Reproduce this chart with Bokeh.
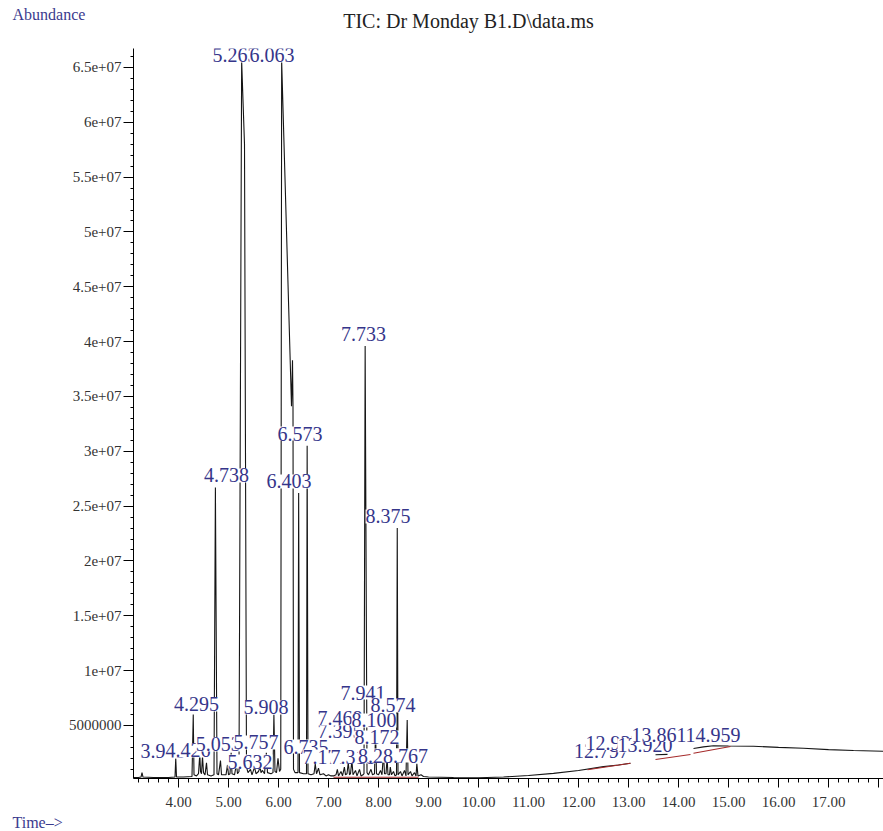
import math
from bokeh.plotting import figure
from bokeh.models import (ColumnDataSource, LabelSet, Label, Range1d, FixedTicker,
                          CustomJSTickFormatter)
from bokeh.core.properties import value
from bokeh.embed import file_html
from bokeh.resources import INLINE

NaN = float("nan")

# ---------------- data ----------------
trace_time = [
    3.10, 3.20, 3.25, 3.27, 3.29, 3.50, 3.80, 3.93, 3.945, 3.96,
    4.10, 4.27, 4.295, 4.31, 4.36, 4.40, 4.426, 4.44, 4.46, 4.48, 4.50, 4.53, 4.56, 4.58, 4.65,
    4.71, 4.738, 4.77,
    4.80, 4.84, 4.86, 4.95, 4.98, 5.00, 5.03, 5.053, 5.07, 5.12, 5.16, 5.18,
    5.21, 5.263, 5.32, 5.36,
    5.39, 5.44, 5.47, 5.52, 5.55, 5.60, 5.632, 5.65, 5.68, 5.72, 5.757, 5.78, 5.85, 5.89, 5.908, 5.93,
    5.96, 5.99, 6.02,
    6.045, 6.063, 6.26, 6.28, 6.29, 6.30,
    6.33, 6.39, 6.403, 6.42, 6.50, 6.56, 6.573, 6.59, 6.65, 6.71, 6.735, 6.76, 6.80, 6.83, 6.90,
    6.95, 7.00, 7.05, 7.10, 7.15, 7.177, 7.20, 7.25, 7.28, 7.318, 7.34, 7.37, 7.395, 7.42, 7.44,
    7.468, 7.49, 7.54, 7.57, 7.62, 7.65, 7.69,
    7.71, 7.733, 7.77,
    7.80, 7.85, 7.88, 7.92, 7.941, 7.96, 8.00, 8.04, 8.07, 8.100, 8.12, 8.15, 8.172, 8.19, 8.22,
    8.236, 8.26, 8.30, 8.33, 8.36, 8.375, 8.39, 8.44, 8.47, 8.52, 8.55, 8.574, 8.59, 8.64, 8.67,
    8.72, 8.75, 8.767, 8.79, 8.85, 8.90, 9.00,
    9.50, 10.00, 10.50, 11.00, 11.50, 12.00, 12.50, 12.80, 13.04, NaN,
    13.54, 13.78, NaN,
    14.30, 14.50, 14.70, 15.00, 15.50, 16.00, 16.50, 17.00, 17.50, 18.10,
]
trace_abund = [
    2.5e5, 2.5e5, 3e5, 7e5, 3e5, 2.5e5, 2.5e5, 3e5, 2.0e6, 3e5,
    3e5, 3.5e5, 6.0e6, 5e5, 4e5, 6e5, 2.4e6, 8e5, 6e5, 2.2e6, 7e5, 5e5, 1.6e6, 5e5, 4e5,
    5e5, 2.67e7, 6e5,
    5e5, 1.8e6, 5e5, 5e5, 1.4e6, 5e5, 6e5, 2.5e6, 6e5, 5e5, 1.5e6, 6e5,
    8e5, 6.56e7, 5.8e7, 1.2e6,
    7e5, 1.0e6, 5e5, 1.2e6, 6e5, 8e5, 1.2e6, 7e5, 9e5, 6e5, 2.5e6, 7e5, 6e5, 7e5, 6.0e6, 8e5,
    7e5, 2.0e6, 8e5,
    1.0e6, 6.56e7, 3.41e7, 3.83e7, 3.4e7, 1.0e6,
    7e5, 7e5, 2.62e7, 7e5, 6e5, 6e5, 3.05e7, 6e5, 5e5, 6e5, 1.5e6, 6e5, 1.1e6, 5e5, 6e5,
    4e5, 5e5, 4e5, 4e5, 5e5, 1.0e6, 4e5, 8e5, 4e5, 1.2e6, 5e5, 6e5, 1.6e6, 5e5, 6e5,
    1.8e6, 5e5, 9e5, 4e5, 1.0e6, 4e5, 5e5,
    6e5, 3.96e7, 7e5,
    5e5, 1.0e6, 5e5, 6e5, 4.5e6, 6e5, 5e5, 9e5, 5e5, 2.5e6, 6e5, 6e5, 2.0e6, 5e5, 5e5,
    1.2e6, 5e5, 8e5, 4e5, 5e5, 2.3e7, 5e5, 8e5, 4e5, 9e5, 4e5, 5.5e6, 5e5, 8e5, 4e5,
    7e5, 4e5, 1.5e6, 4e5, 5e5, 3.5e5, 3e5,
    2.6e5, 2.3e5, 3.0e5, 4.4e5, 6.3e5, 9.0e5, 1.25e6, 1.4e6, 1.56e6, NaN,
    2.33e6, 2.36e6, NaN,
    2.9e6, 3.05e6, 3.15e6, 3.13e6, 3.1e6, 3.0e6, 2.92e6, 2.8e6, 2.72e6, 2.65e6,
]

peak_rt = [3.945, 4.295, 4.426, 4.738, 5.053, 5.263, 5.632, 5.757, 5.908, 6.063, 6.403, 6.573,
           6.735, 7.177, 7.318, 7.395, 7.468, 7.733, 7.941, 8.100, 8.172, 8.236, 8.375, 8.574,
           8.767, 12.797, 12.937, 13.920, 13.861, 14.959]
peak_height = [2.0e6, 6.0e6, 2.4e6, 2.67e7, 2.5e6, 6.56e7, 1.2e6, 2.5e6, 6.0e6, 6.56e7, 2.62e7,
               3.05e7, 1.5e6, 1.0e6, 1.2e6, 1.6e6, 1.8e6, 3.96e7, 4.5e6, 2.5e6, 2.0e6, 1.2e6,
               2.3e7, 5.5e6, 1.5e6, 1.35e6, 1.5e6, 2.3e6, 2.3e6, 3.1e6]
peak_text = ["3.945", "4.295", "4.426", "4.738", "5.053", "5.263", "5.632", "5.757", "5.908",
             "6.063", "6.403", "6.573", "6.735", "7.177", "7.318", "7.395", "7.468", "7.733",
             "7.941", "8.100", "8.172", "8.236", "8.375", "8.574", "8.767", "12.797", "12.937",
             "13.920", "13.861", "14.959"]

baseline_time = [[7.10, 8.80], [12.18, 13.04], [13.54, 14.24], [14.30, 15.04]]
baseline_abund = [[2.8e5, 2.8e5], [0.96e6, 1.56e6], [1.9e6, 2.35e6], [2.47e6, 3.08e6]]

x_major = [4, 5, 6, 7, 8, 9, 10, 11, 12, 13, 14, 15, 16, 17, 18]
y_major = [5e6, 1e7, 1.5e7, 2e7, 2.5e7, 3e7, 3.5e7, 4e7, 4.5e7, 5e7, 5.5e7, 6e7, 6.5e7]

title_text = "TIC: Dr Monday B1.D\\data.ms"
y_title = "Abundance"
x_title = "Time\u2013>"

# ---------------- layout / style ----------------
W, H = 883, 831
LEFT, TOP, BOTTOM = 133, 48, 53
X0, X1 = 3.1, 18.1
Y0, Y1 = 1.64e5, 6.6727e7
PXX = (W - LEFT) / (X1 - X0)          # px per minute
PXY = (H - TOP - BOTTOM) / (Y1 - Y0)  # px per abundance unit

# label placement offsets in pixels (dx right, dy up) relative to each apex
label_dx = [-12.8, 3.2, -11.8, 11.1, -13.0, -6.6, -10.0, -10.3, -7.9, -9.6, -9.6, -7.1,
            -9.2, -12.3, 8.6, -8.2, -11.9, -1.6, -12.5, -9.5, -10.1, -9.8, -9.2, -14.2,
            -11.3, -16.8, -12.3, -29.5, -12.5, -13.4]
label_dy = [6.9, 10.0, 3.5, 12.0, 8.4, 5.4, 5.6, 10.4, 7.0, 5.4, 11.5, 12.3,
            17.3, 12.8, 10.6, 31.3, 42.1, 12.5, 38.4, 32.4, 20.9, 11.6, 11.6, 14.5,
            8.3, 14.5, 20.8, 9.6, 20.1, 11.3]

SERIF = "Liberation Serif"
NAVY = "#35358a"

p = figure(width=W, height=H, output_backend="svg", toolbar_location=None,
           x_range=Range1d(X0, X1), y_range=Range1d(Y0, Y1),
           min_border_left=LEFT, min_border_right=0, min_border_top=TOP,
           min_border_bottom=BOTTOM, title=None)
p.outline_line_color = None
p.xgrid.visible = False
p.ygrid.visible = False
p.background_fill_color = "white"
p.border_fill_color = "white"

# trace
p.line(x=trace_time, y=trace_abund, line_color="#151515", line_width=1.1)
# integration baselines
p.multi_line(xs=baseline_time, ys=baseline_abund, line_color="#a52a2a", line_width=1.1)

# peak labels
lab_x = [t + dx / PXX for t, dx in zip(peak_rt, label_dx)]
lab_y = [h + dy / PXY for h, dy in zip(peak_height, label_dy)]
src = ColumnDataSource(dict(x=lab_x, y=lab_y, text=peak_text))
labels = LabelSet(x="x", y="y", text="text", source=src, text_align="center",
                  text_baseline="middle", text_font=value(SERIF), text_font_size="20px",
                  text_color=NAVY, background_fill_color="white")
p.add_layout(labels)

# axes
xa = p.xaxis[0]
xa.ticker = FixedTicker(ticks=x_major, minor_ticks=[round(3.2 + 0.2 * i, 2) for i in range(75)])
xa.formatter = CustomJSTickFormatter(code="return tick >= 18 ? '' : tick.toFixed(2);")
ya = p.yaxis[0]
ya.ticker = FixedTicker(ticks=y_major, minor_ticks=[1e6 * i for i in range(1, 67)])
ya.formatter = CustomJSTickFormatter(code="""
if (tick < 1e7) return tick.toFixed(0);
return tick.toExponential().replace(/e\\+(\\d)$/, 'e+0$1');
""")
for ax in (xa, ya):
    ax.axis_line_color = "black"
    ax.axis_line_width = 1
    ax.major_tick_line_color = "black"
    ax.minor_tick_line_color = "black"
    ax.major_tick_in = 0
    ax.minor_tick_in = 0
    ax.major_label_text_font = SERIF
    ax.major_label_text_font_size = "15px"
    ax.major_label_text_color = "#333333"
xa.major_tick_out = 9
xa.minor_tick_out = 4
xa.major_label_standoff = 9
ya.major_tick_out = 10
ya.minor_tick_out = 3
ya.major_label_standoff = 2

# texts outside the frame (placed via data units from page positions, in side panels)
def px2x(px):
    return X0 + (px - LEFT) / PXX

def py2y(py):
    return Y0 + (H - BOTTOM - py) / PXY

p.add_layout(Label(x=px2x(468), y=py2y(20), text=title_text, text_font=SERIF,
                   text_font_size="20px", text_color="#222222", text_align="center",
                   text_baseline="middle"), "above")
p.add_layout(Label(x=px2x(12), y=py2y(14), text=y_title, text_font=SERIF,
                   text_font_size="16px", text_color="#3b3b8e", text_align="left",
                   text_baseline="middle"), "above")
p.add_layout(Label(x=px2x(12), y=py2y(822), text=x_title, text_font=SERIF,
                   text_font_size="16px", text_color="#3b3b8e", text_align="left",
                   text_baseline="middle"), "left")

open("out.html", "w").write(file_html(p, INLINE))
